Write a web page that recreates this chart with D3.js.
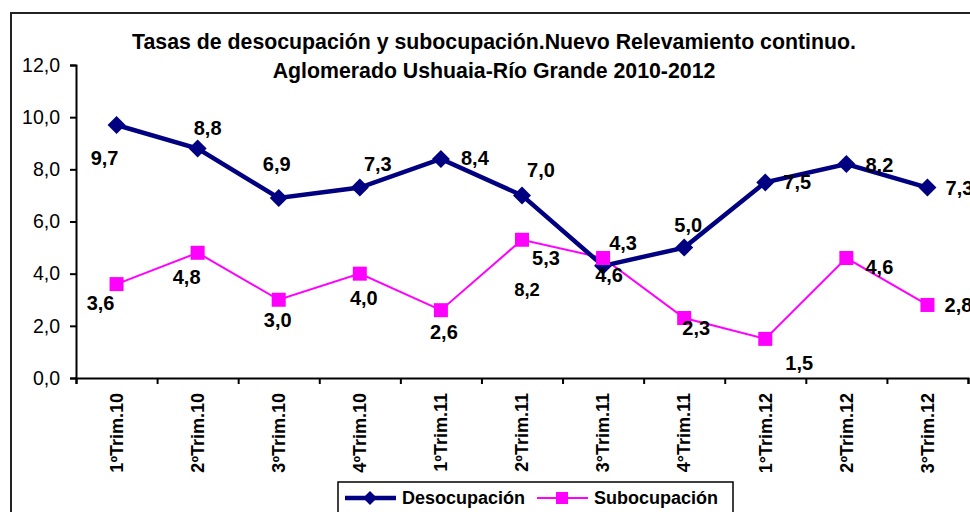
<!DOCTYPE html>
<html>
<head>
<meta charset="utf-8">
<script src="https://cdn.jsdelivr.net/npm/d3@7"></script>
<style>
  html, body { margin: 0; padding: 0; background: #fff; }
  svg { display: block; }
</style>
</head>
<body>
<svg id="chart"></svg>
<script>
// ─── data ───
const categories = ['1ºTrim.10', '2ºTrim.10', '3ºTrim.10', '4ºTrim.10', '1ºTrim.11', '2ºTrim.11',
  '3°Trim.11', '4°Trim.11', '1°Trim.12', '2ºTrim.12', '3°Trim.12']
const desocupacion = [9.7, 8.8, 6.9, 7.3, 8.4, 7.0, 4.3, 5.0, 7.5, 8.2, 7.3]
const subocupacion = [3.6, 4.8, 3.0, 4.0, 2.6, 5.3, 4.6, 2.3, 1.5, 4.6, 2.8]
const yTicks = [0, 2, 4, 6, 8, 10, 12]
const titleLines = ['Tasas de desocupación y subocupación.Nuevo Relevamiento continuo.',
  'Aglomerado Ushuaia-Río Grande 2010-2012']
// etiqueta suelta que aparece en el original
const strayLabel = { cat: 5, value: 8.2 }

// desplazamientos manuales de las etiquetas (px, centro del texto respecto del punto)
const desoLabelOffset = [[-12, 33], [10, -20], [-2, -34], [18, -24], [34, -1], [19, -25],
  [20, -23], [4, -23], [32, 0], [33, 1], [32, 0]]
const subLabelOffset = [[-16, 19], [-11, 24], [-1, 20], [4, 24], [3, 22], [24, 18],
  [6, 17], [12, 10], [34, 24], [33, 9], [31, 0]]

const width = 970, height = 512
const FONT = "Arial, 'Liberation Sans', sans-serif"
const NAVY = '#000080', MAGENTA = '#FF00FF'

const svg = d3.select('#chart').attr('width', width).attr('height', height)

// marco del gráfico
svg.append('rect')
  .attr('x', 11).attr('y', 13).attr('width', 1000).attr('height', 600)
  .attr('fill', 'none').attr('stroke', '#222').attr('stroke-width', 2)

// ─── título ───
svg.append('g').selectAll('text')
  .data(titleLines)
  .join('text')
  .attr('x', 494).attr('y', (d, i) => 49 + i * 29)
  .attr('text-anchor', 'middle')
  .attr('font-family', FONT).attr('font-weight', 'bold').attr('font-size', '21.3px')
  .attr('fill', '#000')
  .text(d => d)

// ─── escalas ───
const plot = { left: 76, right: 968, top: 65, bottom: 378 }
const xEdge = d3.scaleLinear().domain([0, categories.length]).range([plot.left, plot.right])
const x = i => xEdge(i + 0.5)
const y = d3.scaleLinear().domain([0, 12]).range([plot.bottom, plot.top])

// eje Y
svg.append('g')
  .attr('transform', `translate(${plot.left},0)`)
  .call(d3.axisLeft(y).tickValues(yTicks).tickSize(6).tickPadding(10)
    .tickFormat(d => d3.format('.1f')(d).replace('.', ',')))
  .call(g => g.select('.domain').attr('stroke', '#000').attr('stroke-width', 2))
  .call(g => g.selectAll('.tick line').attr('stroke', '#000').attr('stroke-width', 2))
  .call(g => g.selectAll('.tick text')
    .attr('font-family', FONT).attr('font-size', '19.5px').attr('fill', '#000'))

// eje X (marcas en los bordes de cada categoría)
svg.append('g')
  .attr('transform', `translate(0,${plot.bottom})`)
  .call(d3.axisBottom(xEdge).tickValues(d3.range(categories.length + 1)).tickSize(6).tickFormat(''))
  .call(g => g.select('.domain').attr('stroke', '#000').attr('stroke-width', 2))
  .call(g => g.selectAll('.tick line').attr('stroke', '#000').attr('stroke-width', 2))

svg.append('g').selectAll('text')
  .data(categories)
  .join('text')
  .attr('transform', (d, i) => `translate(${x(i)},393) rotate(-90)`)
  .attr('text-anchor', 'end')
  .attr('dy', '0.35em')
  .attr('font-family', FONT).attr('font-weight', 'bold').attr('font-size', '18px').attr('fill', '#000')
  .text(d => d)

// ─── series ───
const line = d3.line().x((d, i) => x(i)).y(d => y(d))

svg.append('path')
  .attr('d', line(subocupacion))
  .attr('fill', 'none').attr('stroke', MAGENTA).attr('stroke-width', 2)

svg.append('path')
  .attr('d', line(desocupacion))
  .attr('fill', 'none').attr('stroke', NAVY).attr('stroke-width', 4.5)

const diamond = 'M0,-9L9,0L0,9L-9,0Z'
svg.append('g').selectAll('path')
  .data(desocupacion)
  .join('path')
  .attr('transform', (d, i) => `translate(${x(i)},${y(d)})`)
  .attr('d', diamond).attr('fill', NAVY)

svg.append('g').selectAll('rect')
  .data(subocupacion)
  .join('rect')
  .attr('x', (d, i) => x(i) - 7).attr('y', d => y(d) - 7)
  .attr('width', 14).attr('height', 14).attr('fill', MAGENTA)

// ─── etiquetas de datos ───
const fmt = v => d3.format('.1f')(v).replace('.', ',')
function labels(values, offsets) {
  svg.append('g').selectAll('text')
    .data(values)
    .join('text')
    .attr('x', (d, i) => x(i) + offsets[i][0])
    .attr('y', (d, i) => y(d) + offsets[i][1])
    .attr('dy', '0.35em')
    .attr('text-anchor', 'middle')
    .attr('font-family', FONT).attr('font-weight', 'bold').attr('font-size', '20px')
    .attr('fill', '#000')
    .text(fmt)
}
labels(subocupacion, subLabelOffset)
labels(desocupacion, desoLabelOffset)

svg.append('text')
  .attr('x', x(strayLabel.cat) + 5).attr('y', 290).attr('dy', '0.35em')
  .attr('text-anchor', 'middle')
  .attr('font-family', FONT).attr('font-weight', 'bold').attr('font-size', '18.5px')
  .text(fmt(strayLabel.value))

// ─── leyenda ───
const legend = svg.append('g').attr('transform', 'translate(338,482)')
legend.append('rect')
  .attr('width', 395).attr('height', 50)
  .attr('fill', '#fff').attr('stroke', '#000').attr('stroke-width', 1.5)

const legendItems = [
  { name: 'Desocupación', color: NAVY, w: 4.5, x0: 7, marker: 'diamond' },
  { name: 'Subocupación', color: MAGENTA, w: 2, x0: 199, marker: 'square' },
]
legendItems.forEach(item => {
  const g = legend.append('g').attr('transform', `translate(${item.x0},16)`)
  g.append('line').attr('x1', 0).attr('x2', 51)
    .attr('stroke', item.color).attr('stroke-width', item.w)
  if (item.marker === 'diamond') {
    g.append('path').attr('d', 'M0,-7L7,0L0,7L-7,0Z').attr('transform', 'translate(25,0)').attr('fill', item.color)
  } else {
    g.append('rect').attr('x', 19).attr('y', -6).attr('width', 12).attr('height', 12).attr('fill', item.color)
  }
  g.append('text').attr('x', 57).attr('dy', '0.35em')
    .attr('font-family', FONT).attr('font-weight', 'bold').attr('font-size', '18px')
    .text(item.name)
})
</script>
</body>
</html>
